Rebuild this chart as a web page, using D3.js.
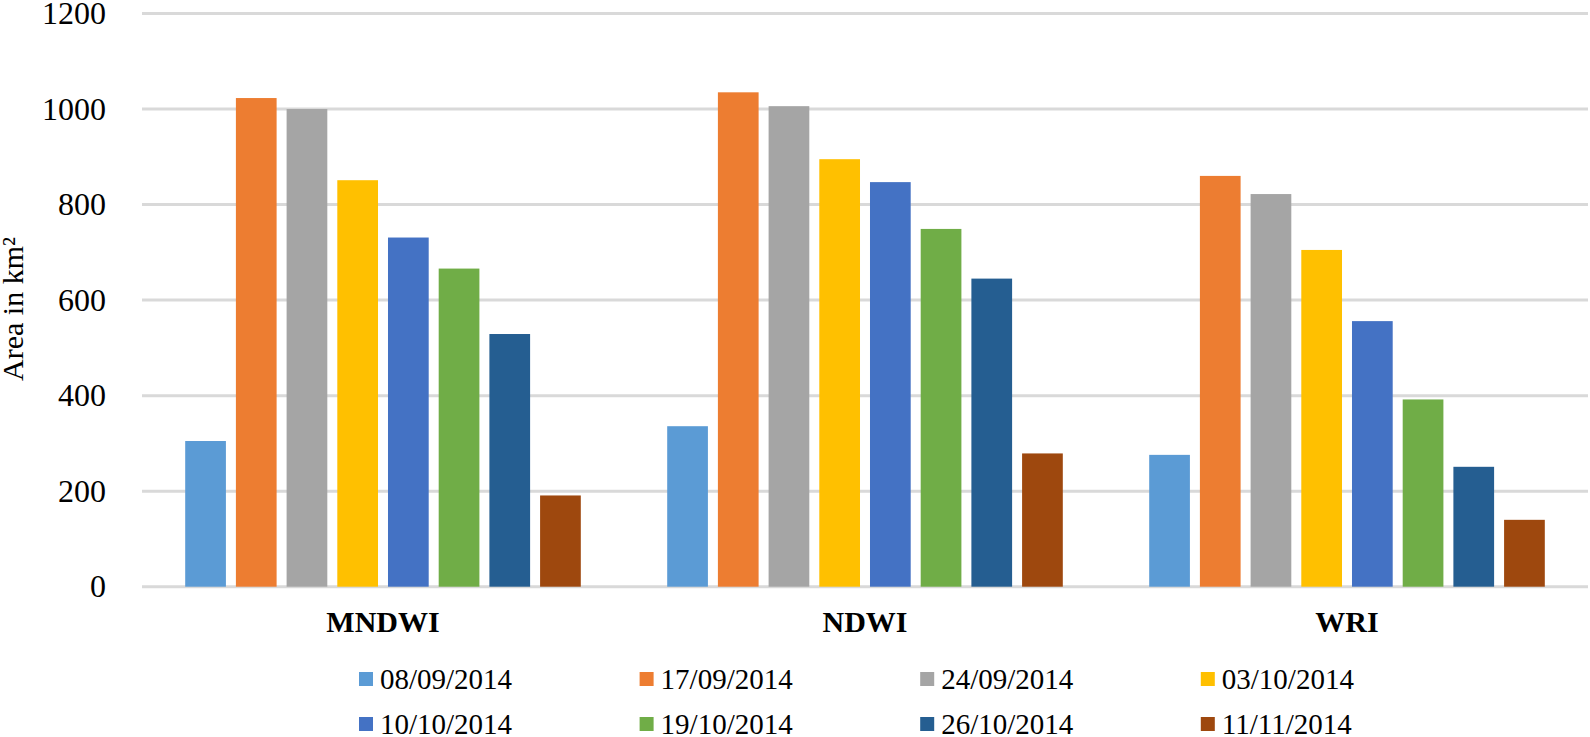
<!DOCTYPE html>
<html>
<head>
<meta charset="utf-8">
<script src="https://cdn.jsdelivr.net/npm/d3@7"></script>
<style>
  html, body { margin: 0; padding: 0; background: #fff; }
  svg { display: block; }
</style>
</head>
<body>
<div id="chart"></div>
<script>
const categories = ['MNDWI', 'NDWI', 'WRI']
const dates = ['08/09/2014', '17/09/2014', '24/09/2014', '03/10/2014',
               '10/10/2014', '19/10/2014', '26/10/2014', '11/11/2014']
const mndwi = [305, 1023, 1000, 851, 731, 666, 529, 191]
const ndwi = [336, 1035, 1006, 895, 847, 749, 645, 279]
const wri = [276, 860, 822, 705, 556, 392, 251, 140]
const yTicks = [0, 200, 400, 600, 800, 1000, 1200]
const colors = ['#5B9BD5', '#ED7D31', '#A5A5A5', '#FFC000', '#4472C4', '#70AD47', '#255E91', '#9E480E']

const W = 1590, H = 737
const FONT = '"Liberation Serif", "Times New Roman", serif'
const plot = { left: 142, right: 1588, top: 13.5, bottom: 586.7 }

const series = [mndwi, ndwi, wri]

// ── Scales ───────────────────────────────────────────────────────────────
const x0 = d3.scaleBand().domain(categories).range([plot.left, plot.right])
const groupW = 395.6
const x1 = d3.scaleBand().domain(d3.range(dates.length))
  .range([(x0.bandwidth() - groupW) / 2, (x0.bandwidth() + groupW) / 2])
  .paddingInner(0.197)
const y = d3.scaleLinear().domain([0, 1200]).range([plot.bottom, plot.top])

const svg = d3.select('#chart').append('svg').attr('width', W).attr('height', H)

// ── Gridlines ────────────────────────────────────────────────────────────
svg.append('g').selectAll('line').data(yTicks).join('line')
  .attr('x1', plot.left).attr('x2', plot.right)
  .attr('y1', d => y(d)).attr('y2', d => y(d))
  .attr('stroke', '#d9d9d9').attr('stroke-width', 3)

// ── Y axis labels ────────────────────────────────────────────────────────
const yAxis = svg.append('g').attr('transform', `translate(106,0)`)
  .call(d3.axisLeft(y).tickValues(yTicks).tickFormat(d3.format('d')).tickSize(0).tickPadding(0))
yAxis.select('.domain').remove()
yAxis.selectAll('text')
  .attr('font-family', FONT).attr('font-size', 32).attr('fill', '#000')

svg.append('text')
  .attr('transform', 'translate(23,309) rotate(-90)')
  .attr('text-anchor', 'middle')
  .attr('font-family', FONT).attr('font-size', 30).attr('fill', '#000')
  .text('Area in km²')

// ── Bars ─────────────────────────────────────────────────────────────────
const groups = svg.append('g').selectAll('g').data(categories).join('g')
  .attr('transform', d => `translate(${x0(d)},0)`)

groups.selectAll('rect')
  .data((d, i) => series[i].map((v, j) => ({ v, j })))
  .join('rect')
  .attr('x', d => x1(d.j))
  .attr('width', x1.bandwidth())
  .attr('y', d => y(d.v))
  .attr('height', d => y(0) - y(d.v))
  .attr('fill', d => colors[d.j])

// ── Category labels ──────────────────────────────────────────────────────
const xAxis = svg.append('g').attr('transform', `translate(0,${plot.bottom})`)
  .call(d3.axisBottom(x0).tickSize(0).tickPadding(0))
xAxis.select('.domain').remove()
xAxis.selectAll('text')
  .attr('dy', null).attr('y', 45)
  .attr('font-family', FONT).attr('font-size', 30).attr('font-weight', 'bold').attr('fill', '#000')

// ── Legend ───────────────────────────────────────────────────────────────
const legend = svg.append('g')
dates.forEach((label, i) => {
  const col = i % 4, row = Math.floor(i / 4)
  const lx = 359 + col * 280.6, ly = 689 + row * 45
  legend.append('rect').attr('x', lx).attr('y', ly - 17).attr('width', 14).attr('height', 14).attr('fill', colors[i])
  legend.append('text').attr('x', lx + 21).attr('y', ly).text(label)
    .attr('font-family', FONT).attr('font-size', 29).attr('fill', '#000')
})
</script>
</body>
</html>
